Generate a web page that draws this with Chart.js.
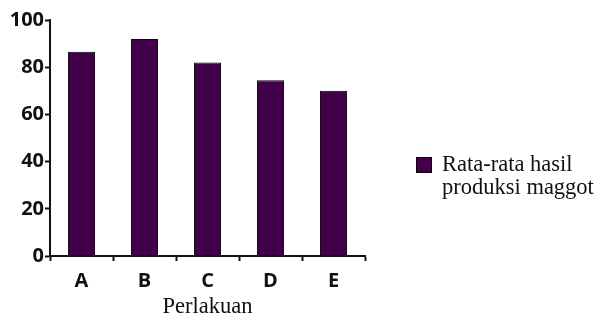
<!DOCTYPE html>
<html>
<head>
<meta charset="utf-8">
<script src="https://cdn.jsdelivr.net/npm/chart.js@4/dist/chart.umd.min.js"></script>
<style>
  html, body { margin: 0; padding: 0; background: #ffffff; }
  #wrap { width: 601px; height: 318px; }
</style>
</head>
<body>
<div id="wrap"><canvas id="chart" width="601" height="318"></canvas></div>
<script>
// Data
const categories = ["A", "B", "C", "D", "E"];
const seriesLabel = ["Rata-rata hasil", "produksi maggot"];
const seriesValues = [86.5, 92, 82, 74.5, 70];
const yTicks = [0, 20, 40, 60, 80, 100];

const barColor = '#42004a';
const edgeColor = '#0c000e';

// Legend drawn at the right, two lines of serif text
const sideLegend = {
    id: 'sideLegend',
    afterDraw(chart) {
        const ctx = chart.ctx;
        const area = chart.chartArea;
        const x = area.right + 51;
        const y = 157;
        ctx.save();
        ctx.fillStyle = barColor;
        ctx.fillRect(x, y, 16, 16);
        ctx.strokeStyle = edgeColor;
        ctx.lineWidth = 1;
        ctx.strokeRect(x + 0.5, y + 0.5, 15, 15);
        ctx.fillStyle = '#111111';
        ctx.font = '22.5px "Liberation Serif", "Times New Roman", serif';
        ctx.textBaseline = 'alphabetic';
        seriesLabel.forEach((line, i) => {
            ctx.fillText(line, x + 26, y + 14 + i * 23);
        });
        ctx.restore();
    }
};

const tickFont = { family: '"Open Sans"', weight: '700', size: 20 };

const ctx = document.getElementById("chart").getContext("2d");
const chart = new Chart(ctx, {
    type: 'bar',
    data: {
        labels: categories,
        datasets: [{
            label: seriesLabel.join(' '),
            data: seriesValues,
            backgroundColor: barColor,
            borderColor: edgeColor,
            borderWidth: 1,
            categoryPercentage: 1,
            barPercentage: 0.43
        }]
    },
    options: {
        responsive: false,
        animation: false,
        devicePixelRatio: 1,
        layout: { padding: { top: 20, right: 236, left: 0, bottom: 0 } },
        plugins: {
            legend: { display: false },
            tooltip: { enabled: false }
        },
        scales: {
            x: {
                afterFit: scale => { scale.height = 62; },
                grid: {
                    drawOnChartArea: false,
                    drawTicks: true,
                    tickLength: 5,
                    tickWidth: 2,
                    tickColor: '#111111',
                    offset: true
                },
                border: { color: '#111111', width: 2 },
                ticks: {
                    color: '#111111',
                    padding: 8,
                    font: tickFont
                },
                title: {
                    display: true,
                    text: 'Perlakuan',
                    color: '#111111',
                    padding: { top: 0, bottom: 0 },
                    font: { family: '"Liberation Serif"', size: 22.5, lineHeight: 1 }
                }
            },
            y: {
                min: 0,
                max: 100,
                afterFit: scale => { scale.width = 50; },
                afterBuildTicks: scale => {
                    scale.ticks = yTicks.map(v => ({ value: v }));
                },
                grid: {
                    drawOnChartArea: false,
                    drawTicks: true,
                    tickLength: 5,
                    tickWidth: 2,
                    tickColor: '#111111'
                },
                border: { color: '#111111', width: 2 },
                ticks: {
                    color: '#111111',
                    padding: 1,
                    font: tickFont
                }
            }
        }
    },
    plugins: [sideLegend]
});
</script>
</body>
</html>
